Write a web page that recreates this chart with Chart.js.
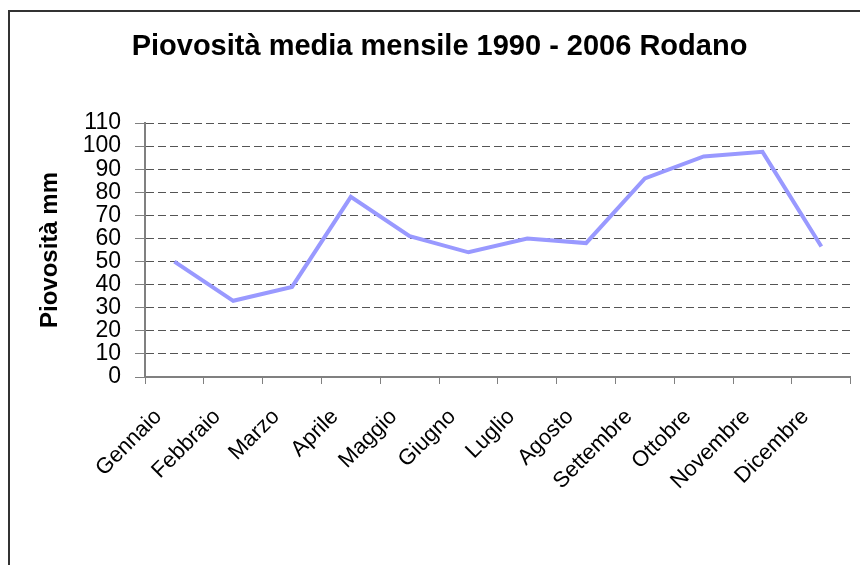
<!DOCTYPE html>
<html>
<head>
<meta charset="utf-8">
<script src="https://cdn.jsdelivr.net/npm/chart.js@4"></script>
<style>
    html, body { margin: 0; padding: 0; background: #fff; overflow: hidden; }
    #wrap { position: relative; width: 860px; height: 565px; }
    #frame { position: absolute; left: 8px; top: 10px; width: 900px; height: 600px;
             border-left: 2px solid #333; border-top: 2px solid #333; }
    #chart { position: absolute; left: 0; top: 0; }
</style>
</head>
<body>
<div id="wrap">
    <div id="frame"></div>
    <canvas id="chart" width="860" height="565"></canvas>
</div>
<script>
// Monthly rainfall, Rhône 1990-2006
const months = ['Gennaio', 'Febbraio', 'Marzo', 'Aprile', 'Maggio', 'Giugno',
                'Luglio', 'Agosto', 'Settembre', 'Ottobre', 'Novembre', 'Dicembre'];
const rainfall = [50, 33, 39, 78, 61, 54, 60, 58, 86, 95.5, 97.5, 56.5];
const yMin = 0;
const yMax = 110;
const yStep = 10;

const fontFamily = "Arial, 'Liberation Sans', sans-serif";

new Chart(document.getElementById('chart'), {
    type: 'line',
    data: {
        labels: months,
        datasets: [{
            data: rainfall,
            borderColor: '#9999ff',
            borderWidth: 4,
            pointRadius: 0,
            tension: 0,
            fill: false
        }]
    },
    options: {
        responsive: false,
        animation: false,
        // right padding is negative to cancel the space reserved for the last rotated label
        layout: { padding: { left: 8, right: -11, top: 0, bottom: 0 } },
        plugins: {
            legend: { display: false },
            tooltip: { enabled: false },
            title: {
                display: true,
                text: 'Piovosità media mensile 1990 - 2006 Rodano',
                color: '#000',
                font: { family: fontFamily, size: 29, weight: 'bold', lineHeight: 1.2 },
                padding: { top: 30, bottom: 58.2 }
            }
        },
        scales: {
            x: {
                offset: true,
                grid: {
                    drawOnChartArea: false,
                    offset: true,
                    tickLength: 7,
                    tickColor: '#808080',
                    tickWidth: 1
                },
                border: { color: '#808080', width: 2 },
                ticks: {
                    color: '#000',
                    font: { family: fontFamily, size: 22 },
                    minRotation: 45,
                    maxRotation: 45,
                    padding: 20,
                    labelOffset: -16,
                    autoSkip: false
                },
                afterFit: function(scale) { scale.height = 188; }
            },
            y: {
                min: yMin,
                max: yMax,
                grid: {
                    color: '#555',
                    lineWidth: 1,
                    tickLength: 10,
                    tickColor: '#808080',
                    tickWidth: 1
                },
                border: { color: '#808080', width: 2, dash: [8, 4] },
                ticks: {
                    stepSize: yStep,
                    autoSkip: false,
                    color: '#000',
                    font: { family: fontFamily, size: 23 },
                    padding: 14
                },
                title: {
                    display: true,
                    text: 'Piovosità mm',
                    color: '#000',
                    font: { family: fontFamily, size: 24, weight: 'bold', lineHeight: 1.2 },
                    padding: { top: 27.6, bottom: 0 }
                },
                afterFit: function(scale) { scale.width = 137; }
            }
        }
    }
});
</script>
</body>
</html>
